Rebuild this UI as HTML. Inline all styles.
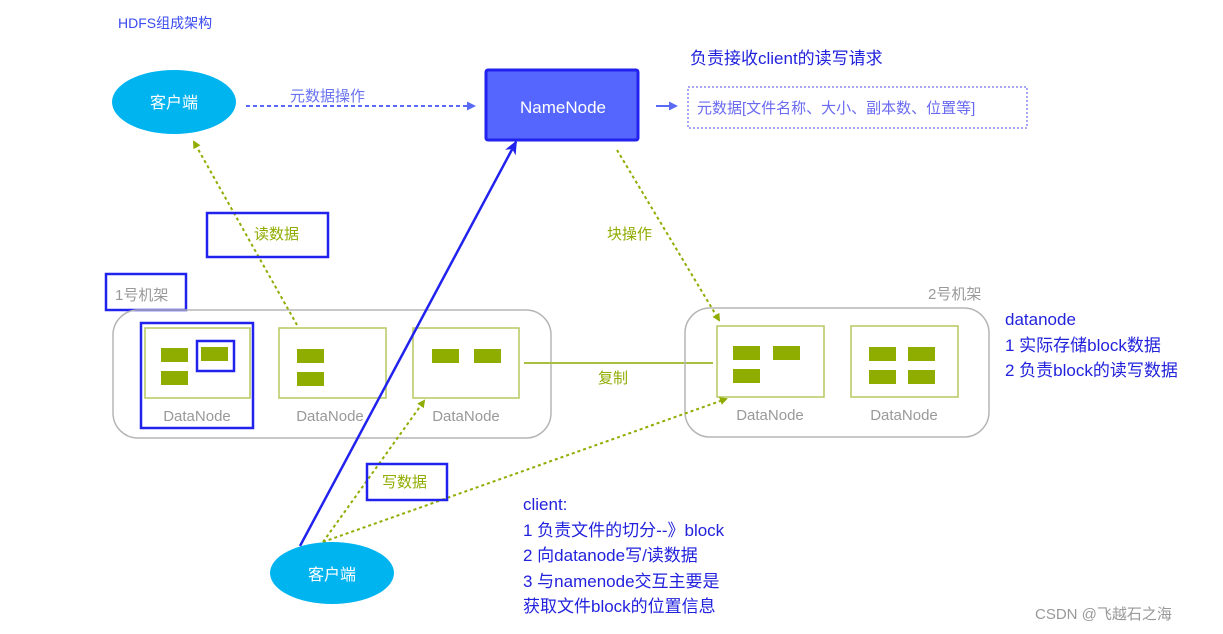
<!DOCTYPE html>
<html><head><meta charset="utf-8"><style>
html,body{margin:0;padding:0;background:#fff;}
svg{display:block;font-family:"Liberation Sans","Noto Sans CJK SC",sans-serif;}
</style></head><body>
<svg width="1223" height="634" viewBox="0 0 1223 634" xmlns="http://www.w3.org/2000/svg">
<defs>
<marker id="ga" markerWidth="8" markerHeight="8" refX="6" refY="4" orient="auto" markerUnits="userSpaceOnUse"><path d="M0,0 L8,4 L0,8 Z" fill="#8fac00"/></marker>
<marker id="ba" markerWidth="9" markerHeight="9" refX="7" refY="4.5" orient="auto" markerUnits="userSpaceOnUse"><path d="M0,0 L9,4.5 L0,9 Z" fill="#5a6af5"/></marker>
<marker id="bb" markerWidth="14" markerHeight="12" refX="12" refY="6" orient="auto" markerUnits="userSpaceOnUse"><path d="M0,0 L14,6 L0,12 L4,6 Z" fill="#2222ee"/></marker>
</defs>
<text x="118" y="28" font-size="14" fill="#3a4bf0">HDFS组成架构</text>

<ellipse cx="174" cy="102" rx="62" ry="32" fill="#00b4f0"/>
<text x="174" y="108" font-size="16" fill="#fff" text-anchor="middle">客户端</text>
<line x1="246" y1="106" x2="474" y2="106" stroke="#5a6af5" stroke-width="2" stroke-dasharray="4,3" marker-end="url(#ba)"/>
<text x="290" y="101" font-size="15" fill="#6a74f0">元数据操作</text>

<rect x="486" y="70" width="152" height="70" fill="#5566ff" stroke="#2222ee" stroke-width="3" rx="2"/>
<text x="563" y="113" font-size="17" fill="#fff" text-anchor="middle">NameNode</text>
<line x1="656" y1="106" x2="676" y2="106" stroke="#5a6af5" stroke-width="2" marker-end="url(#ba)"/>
<rect x="688" y="87" width="339" height="41" fill="none" stroke="#8a8af0" stroke-width="1.5" stroke-dasharray="2,2"/>
<text x="697" y="113" font-size="15" fill="#6a6af0">元数据[文件名称、大小、副本数、位置等]</text>
<text x="690" y="64" font-size="17" fill="#2222dd">负责接收client的读写请求</text>

<line x1="297" y1="325" x2="194" y2="142" stroke="#8fac00" stroke-width="2" stroke-dasharray="3,3" marker-end="url(#ga)"/>
<rect x="207" y="213" width="121" height="44" fill="none" stroke="#2222ee" stroke-width="2.5"/>
<text x="254" y="239" font-size="15" fill="#8fac00">读数据</text>

<line x1="617" y1="150" x2="719" y2="320" stroke="#8fac00" stroke-width="2" stroke-dasharray="3,3" marker-end="url(#ga)"/>
<text x="607" y="239" font-size="15" fill="#8fac00">块操作</text>

<rect x="106" y="274" width="80" height="36" fill="none" stroke="#2222ee" stroke-width="2.5"/>
<text x="115" y="300" font-size="15" fill="#999">1号机架</text>
<rect x="113" y="310" width="438" height="128" rx="25" fill="none" stroke="#b5b5b5" stroke-width="1.5"/>

<rect x="145" y="328" width="105" height="70" fill="none" stroke="#b5c860" stroke-width="1.5"/>
<rect x="161" y="348" width="27" height="14" fill="#8fac00"/>
<rect x="201" y="347" width="27" height="14" fill="#8fac00"/>
<rect x="161" y="371" width="27" height="14" fill="#8fac00"/>
<rect x="197" y="341" width="37" height="30" fill="none" stroke="#2222ee" stroke-width="2.5"/>
<rect x="141" y="323" width="112" height="105" fill="none" stroke="#2222ee" stroke-width="2.5"/>
<text x="197" y="421" font-size="15" fill="#999" text-anchor="middle">DataNode</text>

<rect x="279" y="328" width="107" height="70" fill="none" stroke="#b5c860" stroke-width="1.5"/>
<rect x="297" y="349" width="27" height="14" fill="#8fac00"/>
<rect x="297" y="372" width="27" height="14" fill="#8fac00"/>
<text x="330" y="421" font-size="15" fill="#999" text-anchor="middle">DataNode</text>

<rect x="413" y="328" width="106" height="70" fill="none" stroke="#b5c860" stroke-width="1.5"/>
<rect x="432" y="349" width="27" height="14" fill="#8fac00"/>
<rect x="474" y="349" width="27" height="14" fill="#8fac00"/>
<text x="466" y="421" font-size="15" fill="#999" text-anchor="middle">DataNode</text>

<line x1="524" y1="363" x2="713" y2="363" stroke="#a8c040" stroke-width="2"/>
<text x="598" y="383" font-size="15" fill="#8fac00">复制</text>

<text x="928" y="299" font-size="15" fill="#999">2号机架</text>
<rect x="685" y="308" width="304" height="129" rx="25" fill="none" stroke="#b5b5b5" stroke-width="1.5"/>
<rect x="717" y="326" width="107" height="71" fill="none" stroke="#b5c860" stroke-width="1.5"/>
<rect x="733" y="346" width="27" height="14" fill="#8fac00"/>
<rect x="773" y="346" width="27" height="14" fill="#8fac00"/>
<rect x="733" y="369" width="27" height="14" fill="#8fac00"/>
<text x="770" y="420" font-size="15" fill="#999" text-anchor="middle">DataNode</text>
<rect x="851" y="326" width="107" height="71" fill="none" stroke="#b5c860" stroke-width="1.5"/>
<rect x="869" y="347" width="27" height="14" fill="#8fac00"/>
<rect x="908" y="347" width="27" height="14" fill="#8fac00"/>
<rect x="869" y="370" width="27" height="14" fill="#8fac00"/>
<rect x="908" y="370" width="27" height="14" fill="#8fac00"/>
<text x="904" y="420" font-size="15" fill="#999" text-anchor="middle">DataNode</text>

<text font-size="17" fill="#2222dd"><tspan x="1005" y="325">datanode</tspan><tspan x="1005" y="351">1 实际存储block数据</tspan><tspan x="1005" y="376">2 负责block的读写数据</tspan></text>

<line x1="323" y1="542" x2="424" y2="401" stroke="#8fac00" stroke-width="2" stroke-dasharray="3,3" marker-end="url(#ga)"/>
<line x1="323" y1="542" x2="726" y2="399" stroke="#8fac00" stroke-width="2" stroke-dasharray="3,3" marker-end="url(#ga)"/>
<rect x="367" y="464" width="80" height="36" fill="none" stroke="#2222ee" stroke-width="2.5"/>
<text x="382" y="487" font-size="15" fill="#8fac00">写数据</text>

<line x1="300" y1="546" x2="516" y2="142" stroke="#2222ee" stroke-width="2.5" marker-end="url(#bb)"/>
<ellipse cx="332" cy="573" rx="62" ry="31" fill="#00b4f0"/>
<text x="332" y="580" font-size="16" fill="#fff" text-anchor="middle">客户端</text>

<text font-size="17" fill="#2222dd"><tspan x="523" y="510">client:</tspan><tspan x="523" y="536">1 负责文件的切分--》block</tspan><tspan x="523" y="561">2 向datanode写/读数据</tspan><tspan x="523" y="587">3 与namenode交互主要是</tspan><tspan x="523" y="612">获取文件block的位置信息</tspan></text>

<text x="1035" y="619" font-size="15" fill="#999">CSDN @飞越石之海</text>
</svg>
</body></html>
